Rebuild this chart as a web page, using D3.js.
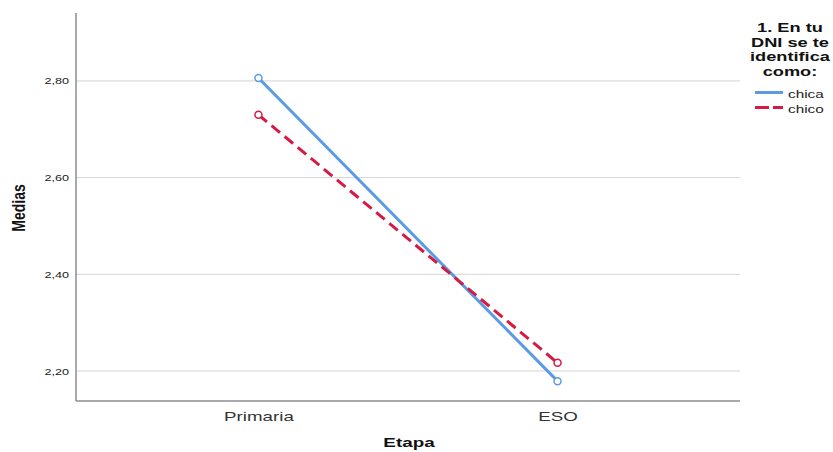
<!DOCTYPE html>
<html><head><meta charset="utf-8">
<script src="https://cdn.jsdelivr.net/npm/d3@7"></script>
<style>body{margin:0;background:#fff}svg{display:block}</style>
</head><body>
<script>
const categories = ["Primaria", "ESO"];
const chica = [2.806, 2.179];
const chico = [2.730, 2.217];
const yTicks = [2.20, 2.40, 2.60, 2.80];
const seriesNames = ["chica", "chico"];
const legendTitle = ["1. En tu", "DNI se te", "identifica", "como:"];

(function () {
const W = 833, H = 452;
const svg = d3.select("body").append("svg").attr("width", W).attr("height", H);
const pLeft = 76, pRight = 740, pTop = 13, pBottom = 401;
const x = d3.scalePoint().domain(categories).range([pLeft, pRight]).padding(0.61);
const y = d3.scaleLinear().domain([2.138, 2.9405]).range([pBottom, pTop]);
const font = "Arial, Liberation Sans, sans-serif";
const STRETCH = 1.4;
function stretch(sel, f) {
  sel.each(function () {
    const len = this.getComputedTextLength();
    d3.select(this).attr("textLength", len * f).attr("lengthAdjust", "spacingAndGlyphs");
  });
}

// gridlines
svg.append("g").selectAll("line").data(yTicks).join("line")
  .attr("x1", pLeft).attr("x2", pRight)
  .attr("y1", d => y(d)).attr("y2", d => y(d))
  .attr("stroke", "#d4d4d4").attr("stroke-width", 1);

// y axis
const yAxis = svg.append("g").attr("transform", `translate(${pLeft},0)`)
  .call(d3.axisLeft(y).tickValues(yTicks).tickSize(0).tickPadding(7)
    .tickFormat(d => d3.format(".2f")(d).replace(".", ",")));
yAxis.select(".domain").remove();
yAxis.selectAll("text").attr("font-family", font).attr("font-size", 9.5).attr("fill", "#222")
  .call(stretch, 1.33);
svg.append("line").attr("x1", pLeft).attr("x2", pLeft).attr("y1", pTop).attr("y2", pBottom)
  .attr("stroke", "#8c8c8c").attr("stroke-width", 1.5);

// x axis
const xAxis = svg.append("g").attr("transform", `translate(0,${pBottom})`)
  .call(d3.axisBottom(x).tickSize(0).tickPadding(8));
xAxis.select(".domain").remove();
xAxis.selectAll("text").attr("font-family", font).attr("font-size", 13).attr("fill", "#333")
  .attr("y", 20).attr("dy", null).call(stretch, 1.44);
svg.append("line").attr("x1", pLeft).attr("x2", pRight).attr("y1", pBottom).attr("y2", pBottom)
  .attr("stroke", "#8c8c8c").attr("stroke-width", 1.5);

// axis titles
svg.append("text").attr("x", 409).attr("y", 447).attr("text-anchor", "middle")
  .attr("font-family", font).attr("font-weight", "bold").attr("font-size", 13)
  .attr("fill", "#111").text("Etapa").call(stretch, 1.45);
svg.append("text").attr("transform", "translate(25,208) scale(1.3,1) rotate(-90)").attr("text-anchor", "middle")
  .attr("font-family", font).attr("font-weight", "bold").attr("font-size", 14)
  .attr("fill", "#111").text("Medias");

const series = [
  {name: seriesNames[0], values: chica, color: "#5b9be6", dash: null},
  {name: seriesNames[1], values: chico, color: "#d51a44", dash: "11,6"}
];
const line = d3.line().x((d, i) => x(categories[i])).y(d => y(d));
series.forEach(s => {
  svg.append("path").datum(s.values).attr("d", line).attr("fill", "none")
    .attr("stroke", s.color).attr("stroke-width", 3).attr("stroke-dasharray", s.dash);
  svg.append("g").selectAll("circle").data(s.values).join("circle")
    .attr("cx", (d, i) => x(categories[i])).attr("cy", d => y(d)).attr("r", 3.5)
    .attr("fill", "#fff").attr("stroke", s.color).attr("stroke-width", 1.5);
});

// legend
const lg = svg.append("g");
lg.selectAll("text.t").data(legendTitle).join("text").attr("class", "t")
  .attr("x", 790).attr("y", (d, i) => 31.7 + i * 14.8).attr("text-anchor", "middle")
  .attr("font-family", font).attr("font-weight", "bold").attr("font-size", 13)
  .attr("fill", "#111").text(d => d).call(stretch, STRETCH);
series.forEach((s, i) => {
  const yy = 92.5 + i * 15;
  lg.append("line").attr("x1", 755).attr("x2", 783).attr("y1", yy).attr("y2", yy)
    .attr("stroke", s.color).attr("stroke-width", 3).attr("stroke-dasharray", s.dash ? "14,4" : null);
  lg.append("text").attr("x", 788).attr("y", yy + 5)
    .attr("font-family", font).attr("font-size", 11.5).attr("fill", "#222").text(s.name)
    .call(stretch, 1.33);
});
})();
</script>
</body></html>
